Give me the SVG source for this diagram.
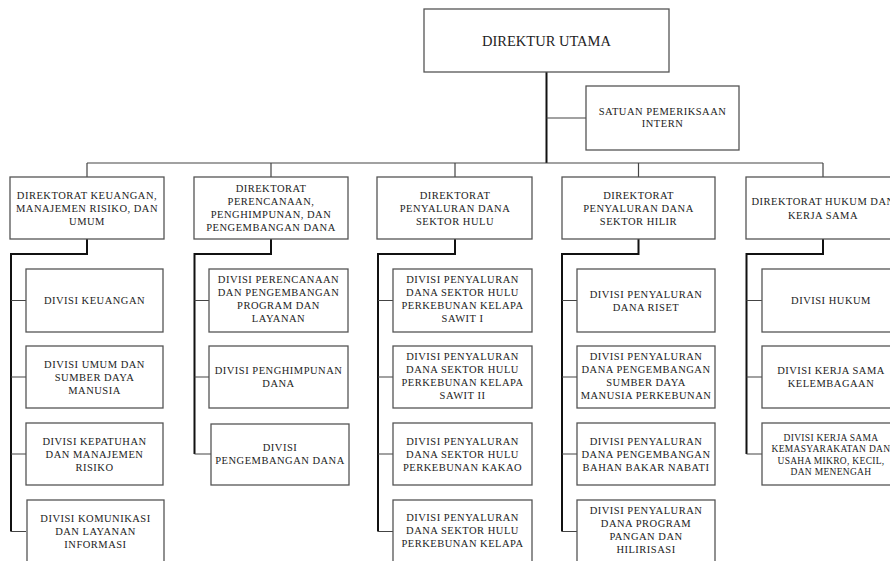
<svg xmlns="http://www.w3.org/2000/svg" width="890" height="561" viewBox="0 0 890 561">
<style>
.box{fill:#fff;stroke:#555;stroke-width:1.3}
.t{font-family:"Liberation Serif","Times New Roman",serif;font-size:10.5px;letter-spacing:0.5px;fill:#222;text-anchor:middle}
.ts{font-family:"Liberation Serif","Times New Roman",serif;font-size:9.5px;letter-spacing:0.3px;fill:#222;text-anchor:middle}
.big{font-family:"Liberation Serif","Times New Roman",serif;font-size:14.5px;fill:#222;text-anchor:middle}
.thin{fill:none;stroke:#444;stroke-width:1.2}
.thick{fill:none;stroke:#111;stroke-width:2}
</style>
<rect width="890" height="561" fill="#fff"/>
<g id="connectors">
<path class="thick" d="M546.5 72 V163"/>
<path class="thin" d="M546.5 118 H586"/>
<path class="thin" d="M87 163 H823 M87 163 V177 M271 163 V177 M455 163 V177 M638.5 163 V177 M823 163 V177"/>
<path class="thick" d="M87 239 V254 H11 V531.5"/>
<path class="thick" d="M271 239 V254 H194.5 V454"/>
<path class="thick" d="M455 239 V254 H378 V531.5"/>
<path class="thick" d="M638.5 239 V254 H562 V531.5"/>
<path class="thick" d="M823 239 V254 H746.5 V454"/>
<path class="thin" d="M11 300.5 H26 M11 377 H26 M11 454 H26 M11 531.5 H26"/>
<path class="thin" d="M194.5 300.5 H209 M194.5 377 H209 M194.5 454 H211"/>
<path class="thin" d="M378 300.5 H393 M378 377 H393 M378 454 H393 M378 531.5 H393"/>
<path class="thin" d="M562 300.5 H577 M562 377 H577 M562 454 H577 M562 531.5 H577"/>
<path class="thin" d="M746.5 300.5 H762 M746.5 377 H762 M746.5 454 H762"/>
</g>
<g id="direktur-utama">
<rect class="box" x="424" y="9" width="245" height="63"/>
<text class="big" x="546.5" y="45.5">DIREKTUR UTAMA</text>
</g>
<g id="satuan-pemeriksaan-intern">
<rect class="box" x="586" y="86" width="153" height="64"/>
<text class="t" x="662.5" y="114.5">SATUAN PEMERIKSAAN</text>
<text class="t" x="662.5" y="127">INTERN</text>
</g>
<g id="dir-keuangan">
<rect class="box" x="10" y="177" width="154" height="62"/>
<text class="t" x="87" y="198.7">DIREKTORAT KEUANGAN,</text>
<text class="t" x="87" y="211.7">MANAJEMEN RISIKO, DAN</text>
<text class="t" x="87" y="224.7">UMUM</text>
</g>
<g id="dir-perencanaan">
<rect class="box" x="194" y="177" width="154" height="62"/>
<text class="t" x="271" y="192">DIREKTORAT</text>
<text class="t" x="271" y="205">PERENCANAAN,</text>
<text class="t" x="271" y="218">PENGHIMPUNAN, DAN</text>
<text class="t" x="271" y="231">PENGEMBANGAN DANA</text>
</g>
<g id="dir-hulu">
<rect class="box" x="377" y="177" width="155" height="62"/>
<text class="t" x="455" y="198.7">DIREKTORAT</text>
<text class="t" x="455" y="211.7">PENYALURAN DANA</text>
<text class="t" x="455" y="224.7">SEKTOR HULU</text>
</g>
<g id="dir-hilir">
<rect class="box" x="562" y="177" width="153" height="62"/>
<text class="t" x="638.5" y="198.7">DIREKTORAT</text>
<text class="t" x="638.5" y="211.7">PENYALURAN DANA</text>
<text class="t" x="638.5" y="224.7">SEKTOR HILIR</text>
</g>
<g id="dir-hukum">
<rect class="box" x="746" y="177" width="154" height="62"/>
<text class="t" x="823" y="204.5">DIREKTORAT HUKUM DAN</text>
<text class="t" x="823" y="218.5">KERJA SAMA</text>
</g>
<g id="div-keuangan">
<rect class="box" x="26" y="269" width="137" height="63"/>
<text class="t" x="94.5" y="304.2">DIVISI KEUANGAN</text>
</g>
<g id="div-umum-sdm">
<rect class="box" x="26" y="346" width="137" height="62"/>
<text class="t" x="94.5" y="367.7">DIVISI UMUM DAN</text>
<text class="t" x="94.5" y="380.7">SUMBER DAYA</text>
<text class="t" x="94.5" y="393.7">MANUSIA</text>
</g>
<g id="div-kepatuhan">
<rect class="box" x="26" y="423" width="137" height="62"/>
<text class="t" x="94.5" y="444.7">DIVISI KEPATUHAN</text>
<text class="t" x="94.5" y="457.7">DAN MANAJEMEN</text>
<text class="t" x="94.5" y="470.7">RISIKO</text>
</g>
<g id="div-komunikasi">
<rect class="box" x="27" y="500" width="137" height="64"/>
<text class="t" x="95.5" y="521.7">DIVISI KOMUNIKASI</text>
<text class="t" x="95.5" y="534.7">DAN LAYANAN</text>
<text class="t" x="95.5" y="547.7">INFORMASI</text>
</g>
<g id="div-perencanaan">
<rect class="box" x="209" y="269" width="139" height="63"/>
<text class="t" x="278.5" y="283">DIVISI PERENCANAAN</text>
<text class="t" x="278.5" y="296">DAN PENGEMBANGAN</text>
<text class="t" x="278.5" y="309">PROGRAM DAN</text>
<text class="t" x="278.5" y="322">LAYANAN</text>
</g>
<g id="div-penghimpunan">
<rect class="box" x="209" y="346" width="139" height="62"/>
<text class="t" x="278.5" y="374.2">DIVISI PENGHIMPUNAN</text>
<text class="t" x="278.5" y="387.2">DANA</text>
</g>
<g id="div-pengembangan-dana">
<rect class="box" x="211" y="424" width="138" height="61"/>
<text class="t" x="280" y="451.2">DIVISI</text>
<text class="t" x="280" y="464.2">PENGEMBANGAN DANA</text>
</g>
<g id="div-hulu-sawit1">
<rect class="box" x="393" y="269" width="139" height="63"/>
<text class="t" x="462.5" y="283">DIVISI PENYALURAN</text>
<text class="t" x="462.5" y="296">DANA SEKTOR HULU</text>
<text class="t" x="462.5" y="309">PERKEBUNAN KELAPA</text>
<text class="t" x="462.5" y="322">SAWIT I</text>
</g>
<g id="div-hulu-sawit2">
<rect class="box" x="393" y="346" width="139" height="62"/>
<text class="t" x="462.5" y="360">DIVISI PENYALURAN</text>
<text class="t" x="462.5" y="373">DANA SEKTOR HULU</text>
<text class="t" x="462.5" y="386">PERKEBUNAN KELAPA</text>
<text class="t" x="462.5" y="399">SAWIT II</text>
</g>
<g id="div-hulu-kakao">
<rect class="box" x="393" y="423" width="139" height="62"/>
<text class="t" x="462.5" y="444.7">DIVISI PENYALURAN</text>
<text class="t" x="462.5" y="457.7">DANA SEKTOR HULU</text>
<text class="t" x="462.5" y="470.7">PERKEBUNAN KAKAO</text>
</g>
<g id="div-hulu-kelapa">
<rect class="box" x="393" y="500" width="139" height="64"/>
<text class="t" x="462.5" y="520.7">DIVISI PENYALURAN</text>
<text class="t" x="462.5" y="533.7">DANA SEKTOR HULU</text>
<text class="t" x="462.5" y="546.7">PERKEBUNAN KELAPA</text>
</g>
<g id="div-riset">
<rect class="box" x="577" y="269" width="138" height="63"/>
<text class="t" x="646" y="297.7">DIVISI PENYALURAN</text>
<text class="t" x="646" y="310.7">DANA RISET</text>
</g>
<g id="div-sdm-perkebunan">
<rect class="box" x="577" y="346" width="138" height="62"/>
<text class="t" x="646" y="360">DIVISI PENYALURAN</text>
<text class="t" x="646" y="373">DANA PENGEMBANGAN</text>
<text class="t" x="646" y="386">SUMBER DAYA</text>
<text class="t" x="646" y="399">MANUSIA PERKEBUNAN</text>
</g>
<g id="div-bbn">
<rect class="box" x="577" y="423" width="138" height="62"/>
<text class="t" x="646" y="444.7">DIVISI PENYALURAN</text>
<text class="t" x="646" y="457.7">DANA PENGEMBANGAN</text>
<text class="t" x="646" y="470.7">BAHAN BAKAR NABATI</text>
</g>
<g id="div-pangan">
<rect class="box" x="577" y="500" width="138" height="64"/>
<text class="t" x="646" y="513.7">DIVISI PENYALURAN</text>
<text class="t" x="646" y="526.7">DANA PROGRAM</text>
<text class="t" x="646" y="539.7">PANGAN DAN</text>
<text class="t" x="646" y="552.7">HILIRISASI</text>
</g>
<g id="div-hukum">
<rect class="box" x="762" y="269" width="138" height="63"/>
<text class="t" x="831" y="304.2">DIVISI HUKUM</text>
</g>
<g id="div-kelembagaan">
<rect class="box" x="762" y="346" width="138" height="62"/>
<text class="t" x="831" y="374.2">DIVISI KERJA SAMA</text>
<text class="t" x="831" y="387.2">KELEMBAGAAN</text>
</g>
<g id="div-kemasyarakatan">
<rect class="box" x="762" y="423" width="138" height="62"/>
<text class="ts" x="831" y="440.5">DIVISI KERJA SAMA</text>
<text class="ts" x="831" y="452">KEMASYARAKATAN DAN</text>
<text class="ts" x="831" y="463.5">USAHA MIKRO, KECIL,</text>
<text class="ts" x="831" y="475">DAN MENENGAH</text>
</g>
</svg>
